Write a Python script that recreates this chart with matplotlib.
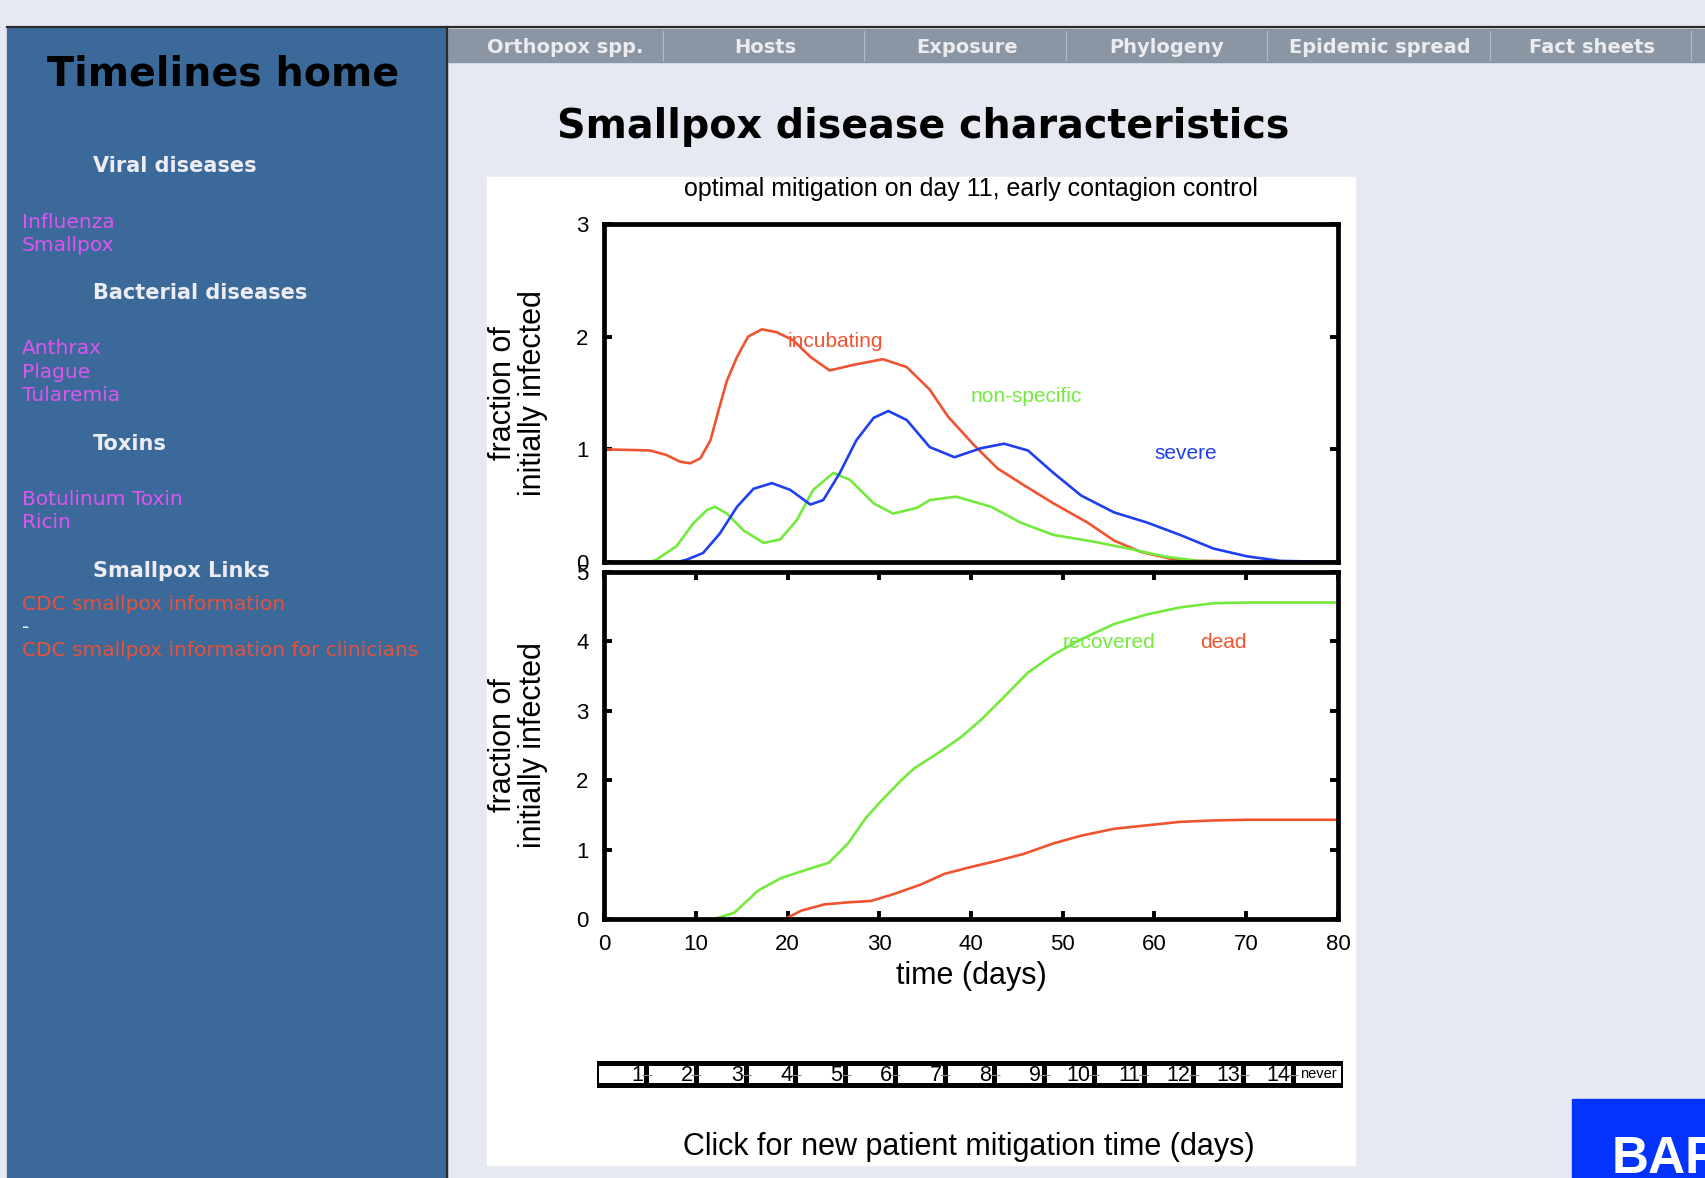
import numpy as np
import matplotlib
matplotlib.use("Agg")
import matplotlib.pyplot as plt
from matplotlib.patches import Rectangle

# ---------------- data ----------------
# upper panel: people in each state (fraction of initially infected)
inc_t = [0, 5.0, 6.8, 8.3, 9.4, 10.5, 11.6, 12.5, 13.4, 14.5, 15.7, 17.2, 18.8, 20.6, 22.5, 24.6, 27.2,
         30.4, 33.0, 35.5, 37.5, 40.3, 42.9, 45.8, 49, 52.7, 55.6, 58.5, 61.7, 64.7, 80]
inc_v = [1.0, 0.99, 0.95, 0.89, 0.876, 0.92, 1.08, 1.35, 1.61, 1.82, 2.0, 2.065, 2.04, 1.97, 1.82, 1.70, 1.75,
         1.80, 1.73, 1.53, 1.29, 1.04, 0.83, 0.68, 0.52, 0.35, 0.19, 0.09, 0.03, 0.01, 0.0]

nonspec_t = [0, 5.0, 5.7, 7.9, 9.7, 11.2, 12.1, 13.4, 15.2, 17.4, 19.2, 21.0, 22.8, 25.0, 26.8, 29.4, 31.5,
             34.1, 35.5, 38.4, 42.2, 45.4, 49, 53.4, 57.1, 61, 64.7, 68, 80]
nonspec_v = [0, 0, 0.02, 0.14, 0.34, 0.46, 0.49, 0.43, 0.28, 0.17, 0.20, 0.37, 0.64, 0.79, 0.73, 0.52, 0.43,
             0.48, 0.55, 0.58, 0.49, 0.35, 0.24, 0.18, 0.12, 0.05, 0.01, 0, 0]

severe_t = [0, 8, 9.0, 10.8, 12.6, 14.5, 16.3, 18.3, 20.3, 22.5, 23.9, 25.7, 27.5, 29.4, 31.0, 33.0, 35.5,
            38.2, 41.1, 43.6, 46.2, 49, 52, 55.6, 59.2, 62.8, 66.4, 70.1, 73.7, 80]
severe_v = [0, 0, 0.02, 0.08, 0.25, 0.49, 0.65, 0.70, 0.64, 0.51, 0.55, 0.79, 1.08, 1.28, 1.34, 1.26, 1.02,
            0.93, 1.01, 1.05, 0.99, 0.79, 0.59, 0.44, 0.35, 0.24, 0.12, 0.05, 0.01, 0]

# lower panel: cumulative outcomes
rec_t = [0, 12, 14.2, 16.8, 19.3, 22.3, 24.5, 26.6, 28.5, 30.2, 32.4, 33.8, 36.4, 38.9, 41.1, 43.6, 46.2,
         49, 52, 55.6, 59.2, 62.8, 66.4, 70.1, 80]
rec_v = [0, 0, 0.09, 0.41, 0.59, 0.72, 0.81, 1.09, 1.45, 1.7, 2.0, 2.17, 2.39, 2.62, 2.87, 3.2, 3.55,
         3.81, 4.03, 4.25, 4.39, 4.49, 4.55, 4.56, 4.56]

dead_t = [0, 19.7, 21.5, 24, 26.6, 29.1, 31.6, 34.6, 37.1, 39.7, 42.9, 45.8, 49, 52, 55.6, 59.2, 62.8,
          66.4, 70.1, 80]
dead_v = [0, 0, 0.12, 0.21, 0.24, 0.26, 0.36, 0.5, 0.65, 0.74, 0.84, 0.94, 1.09, 1.2, 1.3, 1.35, 1.4,
          1.42, 1.43, 1.43]

mitigation_days = ["1", "2", "3", "4", "5", "6", "7", "8", "9", "10", "11", "12", "13", "14", "never"]

nav_items = ["Orthopox spp.", "Hosts", "Exposure", "Phylogeny", "Epidemic spread", "Fact sheets"]
viral = ["Influenza", "Smallpox"]
bacterial = ["Anthrax", "Plague", "Tularemia"]
toxins = ["Botulinum Toxin", "Ricin"]
links = ["CDC smallpox information", "-", "CDC smallpox information for clinicians"]

RED = "#f0532f"
GREEN = "#73ea3c"
BLUE = "#1f3ff0"

W, H = 1705, 1178


def box(x0, y0, x1, y1):
    # pixel box (top-left origin) -> figure fraction
    return [x0 / W, 1 - y1 / H, (x1 - x0) / W, (y1 - y0) / H]


fig = plt.figure(figsize=(W / 100, H / 100), dpi=100)
fig.patch.set_facecolor("#e6e9f2")

# ---------------- page around the chart ----------------
bg = fig.add_axes([0, 0, 1, 1])
bg.set_xlim(0, W)
bg.set_ylim(H, 0)
bg.axis("off")

side = "DejaVu Sans"
bg.add_patch(Rectangle((7, 28), 440, H - 28, color="#3b6a9a"))
bg.plot([7, W], [27, 27], color="#2a2a2a", lw=1.6)
bg.plot([447, 447], [27, H], color="#2a2a2a", lw=1.6)
bg.add_patch(Rectangle((448, 29), W - 448, 33, color="#8a96a3"))
for sx in [663, 864, 1066, 1267, 1490, 1691]:
    bg.plot([sx, sx], [31, 60], color="#b3bac4", lw=0.9)
for name, cx in zip(nav_items, [565, 765, 967, 1167, 1380, 1592]):
    bg.text(cx, 53, name, ha="center", va="baseline", fontsize=14, fontweight="bold",
            color="#ececf0", family=side)

bg.text(223, 85, "Timelines home", ha="center", va="baseline", fontsize=28.5,
        fontweight="bold", color="black", family=side)

head_kw = dict(fontsize=15, fontweight="bold", color="#ececf2", family=side, va="baseline")
link_kw = dict(fontsize=14.5, family=side, va="baseline")
bg.text(93, 172, "Viral diseases", **head_kw)
for i, s in enumerate(viral):
    bg.text(22, 228 + 23 * i, s, color="#dd55ee", **link_kw)
bg.text(93, 299, "Bacterial diseases", **head_kw)
for i, s in enumerate(bacterial):
    bg.text(22, 354 + 23.5 * i, s, color="#dd55ee", **link_kw)
bg.text(93, 450, "Toxins", **head_kw)
for i, s in enumerate(toxins):
    bg.text(22, 505 + 23 * i, s, color="#dd55ee", **link_kw)
bg.text(93, 577, "Smallpox Links", **head_kw)
for i, s in enumerate(links):
    bg.text(22, 610 + 23 * i, s, color="#ffffff" if s == "-" else "#e8503a", **link_kw)

bg.text(557, 138, "Smallpox disease characteristics", ha="left", va="baseline",
        fontsize=28.5, fontweight="bold", color="black", family=side)

bg.add_patch(Rectangle((487, 177), 868, 988, color="white"))

bg.add_patch(Rectangle((1572, 1099), W - 1572, H - 1099, color="#0433ff"))
bg.text(1612, 1173, "BAR", ha="left", va="baseline", fontsize=37, fontweight="bold",
        color="white", family="Liberation Sans")

bg.text(969, 1155, "Click for new patient mitigation time (days)", ha="center", va="baseline",
        fontsize=22, color="black", family="Liberation Sans")

# ---------------- the chart ----------------
plt.rcParams["font.family"] = "Liberation Sans"
ylab = "fraction of\ninitially infected"

ax1 = fig.add_axes(box(604, 224, 1338, 562))
ax2 = fig.add_axes(box(604, 572, 1338, 919))

for ax in (ax1, ax2):
    ax.set_xlim(0, 80)
    for sp in ax.spines.values():
        sp.set_linewidth(3.4)
    ax.tick_params(direction="in", length=6, width=2.8, labelsize=16, pad=11,
                   left=True, right=True, top=True, bottom=True)
    ax.set_ylabel(ylab, fontsize=22, linespacing=1.0, va="center")
    ax.yaxis.set_label_coords(-0.117, 0.5)

ax1.plot(inc_t, inc_v, color=RED, lw=1.9, solid_joinstyle="round")
ax1.plot(nonspec_t, nonspec_v, color=GREEN, lw=1.9, solid_joinstyle="round")
ax1.plot(severe_t, severe_v, color=BLUE, lw=1.9, solid_joinstyle="round")
ax1.set_ylim(0, 3)
ax1.set_yticks([0, 1, 2, 3])
ax1.set_xticks([])
ax1.set_title("optimal mitigation on day 11, early contagion control", fontsize=18, pad=20)
ax1.text(20, 1.96, "incubating", color=RED, fontsize=15, va="center")
ax1.text(40, 1.47, "non-specific", color=GREEN, fontsize=15, va="center")
ax1.text(60, 0.96, "severe", color=BLUE, fontsize=15, va="center")

ax2.plot(rec_t, rec_v, color=GREEN, lw=1.9, solid_joinstyle="round")
ax2.plot(dead_t, dead_v, color=RED, lw=1.9, solid_joinstyle="round")
ax2.set_ylim(0, 5)
ax2.set_yticks(range(6))
ax2.set_xticks(range(0, 81, 10))
ax2.set_xlabel("time (days)", fontsize=22, labelpad=4)
ax2.text(50, 3.99, "recovered", color=GREEN, fontsize=15, va="center")
ax2.text(65, 3.99, "dead", color=RED, fontsize=15, va="center")

# ---------------- mitigation-day buttons ----------------
axb = fig.add_axes(box(597, 1061, 1343, 1088))
axb.set_facecolor("black")
axb.set_xlim(0, len(mitigation_days))
axb.set_ylim(0, 1)
axb.set_xticks([])
axb.set_yticks([])
for sp in axb.spines.values():
    sp.set_visible(False)
pos = np.arange(len(mitigation_days))
axb.bar(pos + 0.05, 0.6, width=0.9, bottom=0.2, align="edge", color="white")
axb.hlines(np.full(len(pos) - 1, 0.5), pos[1:] - 0.1, pos[1:] + 0.1, color="#888888", lw=0.8)
for i, lab in enumerate(mitigation_days):
    if lab == "never":
        axb.text(i + 0.5, 0.5, lab, ha="center", va="center", fontsize=10.5)
    else:
        axb.text(i + 0.93, 0.47, lab, ha="right", va="center", fontsize=15.5)

fig.savefig("out.png", dpi=100, facecolor=fig.get_facecolor())
